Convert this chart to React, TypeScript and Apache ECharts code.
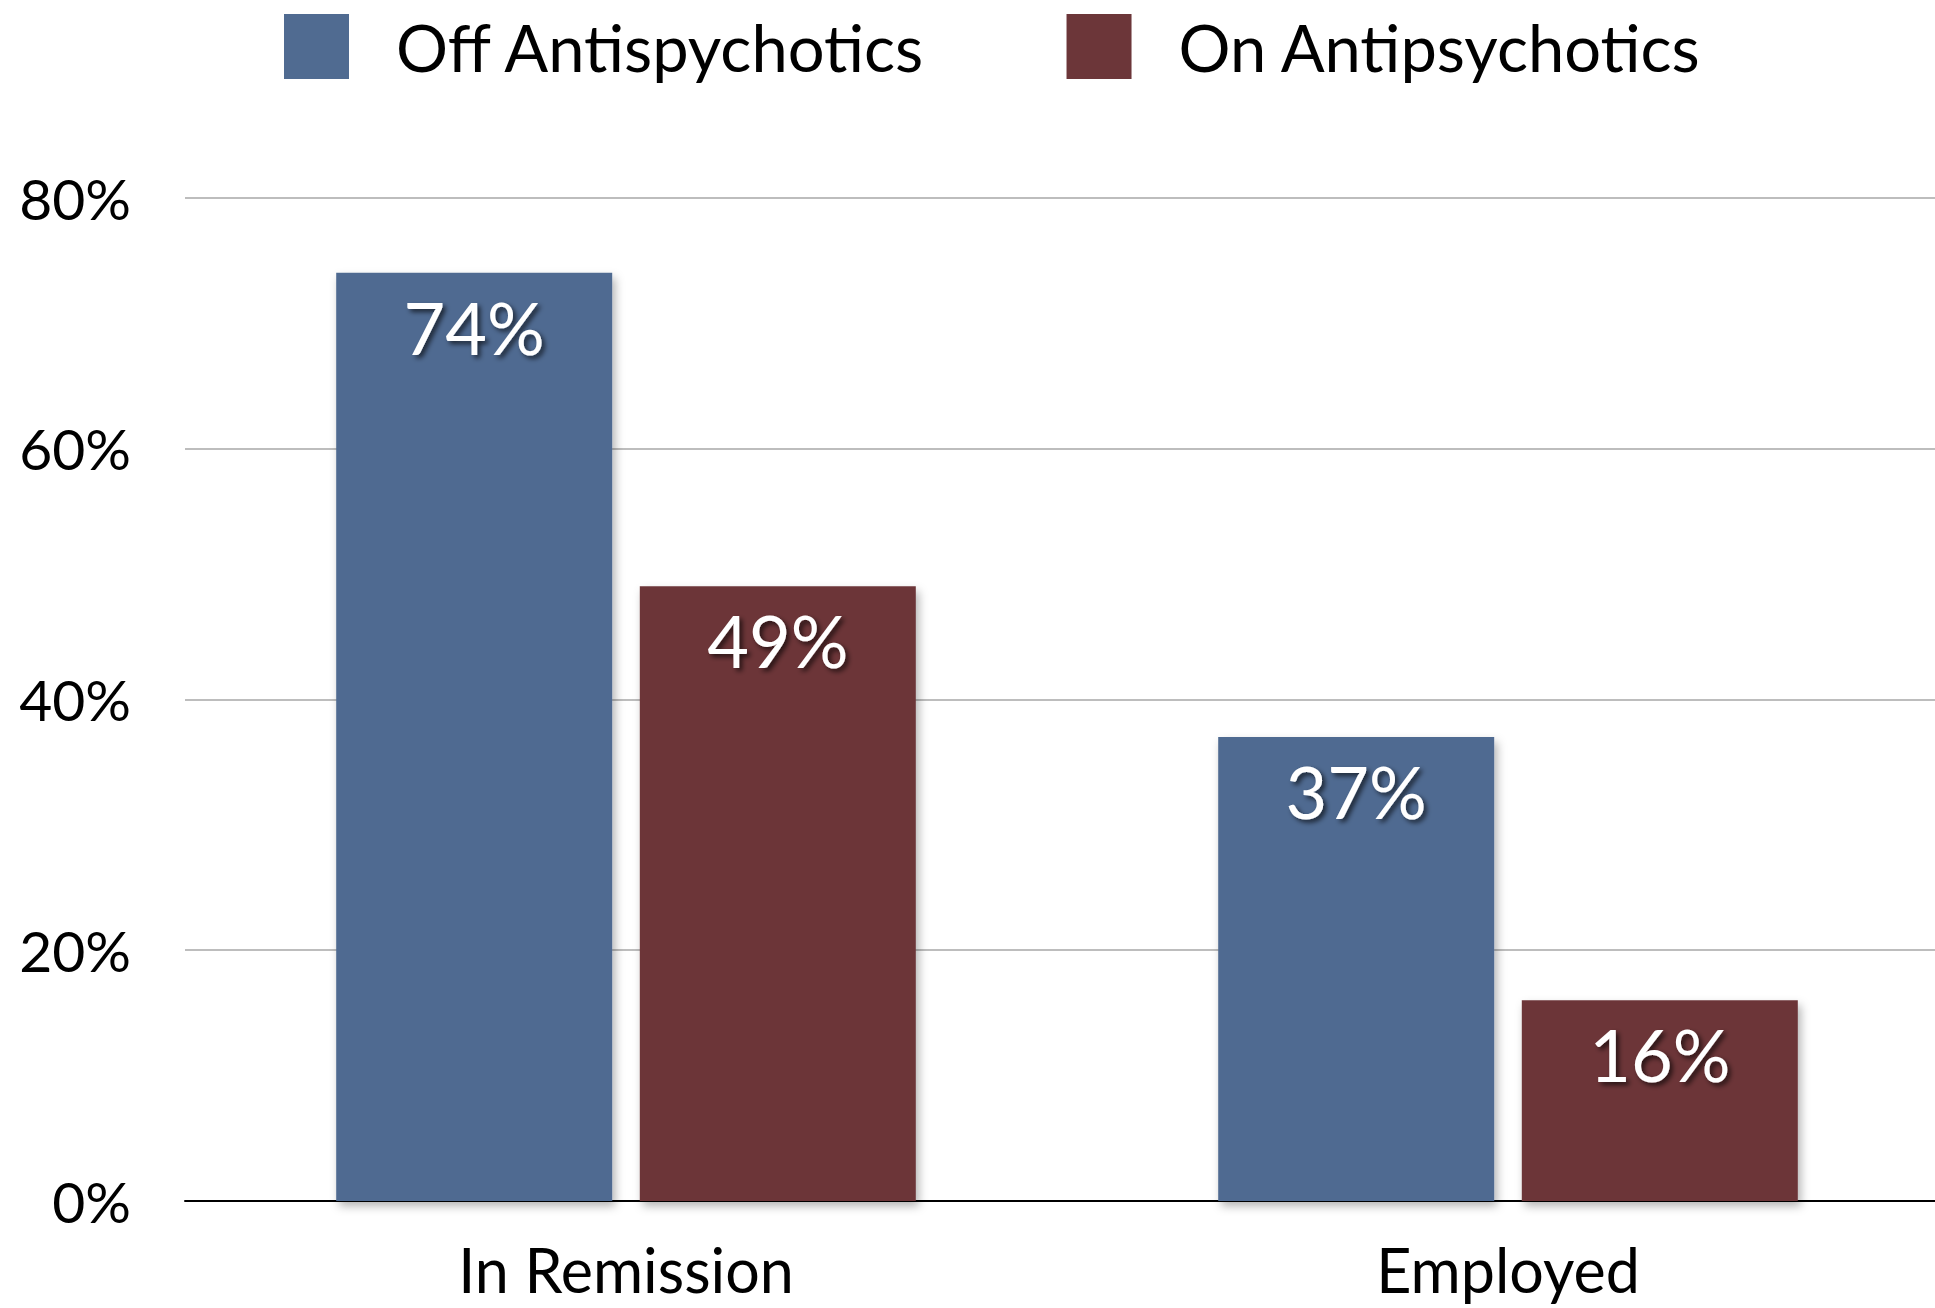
import React, { useEffect, useRef } from "react";
import * as echarts from "echarts";

const categories = ["In Remission", "Employed"];
const seriesNames = ["Off Antispychotics", "On Antipsychotics"];
const offValues = [74, 37];
const onValues = [49, 16];
const colors = ["#506b91", "#6c3639"];

const FONT = "Lato, 'Open Sans', sans-serif";

export default function App() {
  const ref = useRef<HTMLDivElement>(null);
  useEffect(() => {
    document.body.style.margin = "0";
    document.body.style.overflow = "hidden";
    document.documentElement.style.overflow = "hidden";
    const chart = echarts.init(ref.current!, null, { renderer: "svg" });
    const labelCfg = {
      show: true,
      position: "insideTop",
      distance: 18,
      formatter: "{c}%",
      color: "#ffffff",
      fontSize: 72,
      fontFamily: FONT,
      textShadowColor: "rgba(0,0,0,0.65)",
      textShadowBlur: 5,
      textShadowOffsetX: 3,
      textShadowOffsetY: 3,
    };
    const itemShadow = {
      shadowBlur: 10,
      shadowColor: "rgba(0,0,0,0.3)",
      shadowOffsetX: 3,
      shadowOffsetY: 5,
    };
    chart.setOption({
      animation: false,
      backgroundColor: "#ffffff",
      legend: {
        left: 279,
        top: 9,
        itemWidth: 65,
        itemHeight: 65,
        itemGap: 140,
        icon: "rect",
        textStyle: {
          fontSize: 65,
          lineHeight: 65,
          fontFamily: FONT,
          color: "#000000",
          padding: [0, 0, 0, 42],
        },
        data: seriesNames,
      },
      grid: { left: 185, right: 0, top: 197.5, bottom: 107, containLabel: false },
      xAxis: {
        type: "category",
        data: categories,
        axisLine: { show: true, lineStyle: { color: "#000000", width: 2 } },
        axisTick: { show: false },
        axisLabel: {
          fontSize: 61,
          fontFamily: FONT,
          color: "#000000",
          margin: 38,
        },
      },
      yAxis: {
        type: "value",
        min: 0,
        max: 80,
        interval: 20,
        axisLine: { show: false },
        axisTick: { show: false },
        splitLine: { lineStyle: { color: "#bdbdbd", width: 2 } },
        axisLabel: {
          formatter: "{value}%",
          fontSize: 57,
          fontFamily: FONT,
          color: "#000000",
          margin: 54,
        },
      },
      series: [
        {
          name: seriesNames[0],
          type: "bar",
          data: offValues,
          barWidth: 276,
          barGap: "10%",
          itemStyle: { color: colors[0], ...itemShadow },
          label: labelCfg,
        },
        {
          name: seriesNames[1],
          type: "bar",
          data: onValues,
          barWidth: 276,
          barGap: "10%",
          itemStyle: { color: colors[1], ...itemShadow },
          label: labelCfg,
        },
      ],
    });
    return () => chart.dispose();
  }, []);
  return <div ref={ref} style={{ width: 1949, height: 1308 }} />;
}
